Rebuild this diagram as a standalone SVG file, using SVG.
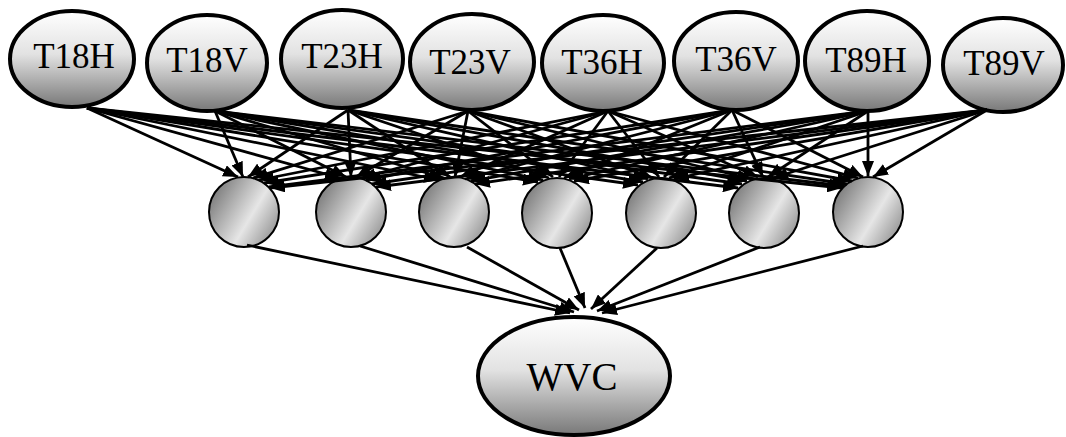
<svg xmlns="http://www.w3.org/2000/svg" width="1066" height="437" viewBox="0 0 1066 437">
<defs>
<linearGradient id="gE" x1="0" y1="0" x2="0" y2="1">
<stop offset="0" stop-color="#ffffff"/>
<stop offset="0.45" stop-color="#e2e2e2"/>
<stop offset="1" stop-color="#787878"/>
</linearGradient>
<linearGradient id="gC" x1="0" y1="0.2" x2="1" y2="0.8">
<stop offset="0" stop-color="#737373"/>
<stop offset="0.6" stop-color="#e6e6e6"/>
<stop offset="1" stop-color="#8e8e8e"/>
</linearGradient>
<marker id="ah" markerUnits="userSpaceOnUse" markerWidth="16" markerHeight="12" refX="15" refY="6" orient="auto">
<path d="M0,0 L15,6 L0,12 z" fill="#000"/>
</marker>
</defs>
<style>
.e{fill:url(#gE);stroke:#000;stroke-width:4}
.h{fill:url(#gC);stroke:#000;stroke-width:2}
.t{font-family:"Liberation Serif","Times New Roman",serif;font-size:35px;fill:#000;text-anchor:middle}
.w{font-size:39px}
.c line{stroke:#000;stroke-width:2.8;marker-end:url(#ah)}
</style>
<rect width="1066" height="437" fill="#fff"/>
<g id="T18H"><ellipse class="e" cx="72" cy="59" rx="62" ry="48"/><text class="t" x="74" y="68">T18H</text></g>
<g id="T18V"><ellipse class="e" cx="207" cy="63" rx="60" ry="48"/><text class="t" x="207" y="72">T18V</text></g>
<g id="T23H"><ellipse class="e" cx="342" cy="59" rx="61" ry="49"/><text class="t" x="342" y="68">T23H</text></g>
<g id="T23V"><ellipse class="e" cx="472" cy="62" rx="62" ry="48"/><text class="t" x="470" y="74">T23V</text></g>
<g id="T36H"><ellipse class="e" cx="603" cy="63" rx="61" ry="48"/><text class="t" x="602" y="74">T36H</text></g>
<g id="T36V"><ellipse class="e" cx="736" cy="61" rx="62" ry="49"/><text class="t" x="736" y="71">T36V</text></g>
<g id="T89H"><ellipse class="e" cx="867" cy="61" rx="62" ry="50"/><text class="t" x="866" y="72">T89H</text></g>
<g id="T89V"><ellipse class="e" cx="1003" cy="65" rx="60" ry="47"/><text class="t" x="1004" y="75">T89V</text></g>
<g id="H1"><circle class="h" cx="244" cy="212" r="35"/></g>
<g id="H2"><circle class="h" cx="351" cy="212" r="35"/></g>
<g id="H3"><circle class="h" cx="454" cy="212" r="35"/></g>
<g id="H4"><circle class="h" cx="557" cy="213" r="35"/></g>
<g id="H5"><circle class="h" cx="661" cy="213" r="35"/></g>
<g id="H6"><circle class="h" cx="764" cy="213" r="35"/></g>
<g id="H7"><circle class="h" cx="868" cy="212" r="35"/></g>
<g id="WVC"><ellipse class="e" cx="574" cy="376" rx="96" ry="59"/><text class="t w" x="572" y="390">WVC</text></g>
<g class="c" id="connectors">
<line x1="87" y1="108" x2="238" y2="177"/>
<line x1="87" y1="108" x2="340" y2="178"/>
<line x1="87" y1="108" x2="439" y2="180"/>
<line x1="87" y1="108" x2="538" y2="182"/>
<line x1="87" y1="108" x2="638" y2="185"/>
<line x1="87" y1="108" x2="738" y2="188"/>
<line x1="87" y1="108" x2="842" y2="188"/>
<line x1="215" y1="111" x2="243" y2="177"/>
<line x1="215" y1="111" x2="346" y2="177"/>
<line x1="215" y1="111" x2="444" y2="178"/>
<line x1="215" y1="111" x2="543" y2="180"/>
<line x1="215" y1="111" x2="643" y2="182"/>
<line x1="215" y1="111" x2="742" y2="184"/>
<line x1="215" y1="111" x2="844" y2="186"/>
<line x1="348" y1="110" x2="248" y2="177"/>
<line x1="348" y1="110" x2="351" y2="177"/>
<line x1="348" y1="110" x2="450" y2="177"/>
<line x1="348" y1="110" x2="549" y2="178"/>
<line x1="348" y1="110" x2="648" y2="179"/>
<line x1="348" y1="110" x2="747" y2="181"/>
<line x1="348" y1="110" x2="847" y2="184"/>
<line x1="468" y1="111" x2="253" y2="178"/>
<line x1="468" y1="111" x2="356" y2="177"/>
<line x1="468" y1="111" x2="455" y2="177"/>
<line x1="468" y1="111" x2="553" y2="177"/>
<line x1="468" y1="111" x2="653" y2="178"/>
<line x1="468" y1="111" x2="752" y2="179"/>
<line x1="468" y1="111" x2="852" y2="181"/>
<line x1="608" y1="111" x2="259" y2="180"/>
<line x1="608" y1="111" x2="361" y2="178"/>
<line x1="608" y1="111" x2="460" y2="177"/>
<line x1="608" y1="111" x2="559" y2="177"/>
<line x1="608" y1="111" x2="659" y2="177"/>
<line x1="608" y1="111" x2="758" y2="177"/>
<line x1="608" y1="111" x2="858" y2="178"/>
<line x1="732" y1="110" x2="264" y2="183"/>
<line x1="732" y1="110" x2="366" y2="180"/>
<line x1="732" y1="110" x2="465" y2="179"/>
<line x1="732" y1="110" x2="564" y2="178"/>
<line x1="732" y1="110" x2="664" y2="177"/>
<line x1="732" y1="110" x2="763" y2="177"/>
<line x1="732" y1="110" x2="863" y2="177"/>
<line x1="868" y1="111" x2="269" y2="187"/>
<line x1="868" y1="111" x2="372" y2="184"/>
<line x1="868" y1="111" x2="471" y2="181"/>
<line x1="868" y1="111" x2="569" y2="179"/>
<line x1="868" y1="111" x2="669" y2="178"/>
<line x1="868" y1="111" x2="768" y2="177"/>
<line x1="868" y1="111" x2="868" y2="176"/>
<line x1="987" y1="110" x2="270" y2="188"/>
<line x1="987" y1="110" x2="376" y2="187"/>
<line x1="987" y1="110" x2="475" y2="184"/>
<line x1="987" y1="110" x2="574" y2="181"/>
<line x1="987" y1="110" x2="674" y2="179"/>
<line x1="987" y1="110" x2="773" y2="178"/>
<line x1="987" y1="110" x2="873" y2="177"/>
<line x1="247" y1="245" x2="570" y2="313"/>
<line x1="360" y1="246" x2="574" y2="312"/>
<line x1="467" y1="247" x2="579" y2="310"/>
<line x1="560" y1="248" x2="585" y2="308"/>
<line x1="657" y1="248" x2="591" y2="309"/>
<line x1="760" y1="247" x2="597" y2="311"/>
<line x1="863" y1="246" x2="602" y2="313"/>
</g>
</svg>
